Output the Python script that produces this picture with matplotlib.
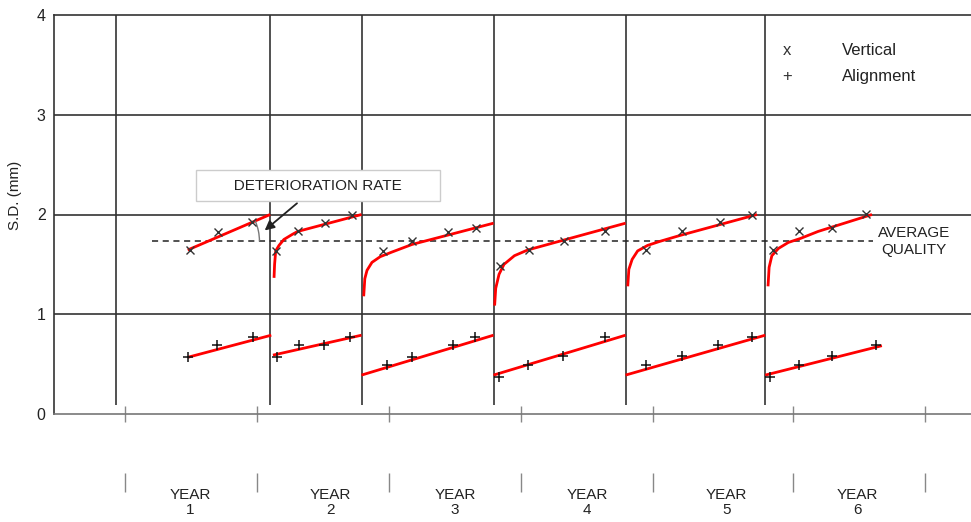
import matplotlib
matplotlib.use("Agg")
import matplotlib.pyplot as plt
from matplotlib.patches import Arc

plt.rcParams['font.family'] = ['Liberation Sans', 'DejaVu Sans']

# time axis in months, S.D. in mm
year_ticks = [0, 12, 24, 36, 48, 60.7, 72.7]
year_label_x = [5.9, 18.7, 30.0, 42.0, 54.7, 66.6]
year_labels = ['YEAR\n1', 'YEAR\n2', 'YEAR\n3', 'YEAR\n4', 'YEAR\n5', 'YEAR\n6']
maintenance_x = [-0.8, 13.2, 21.5, 33.5, 45.5, 58.2]
avg_quality = 1.73
avg_quality_x = [2.45, 68.0]

# vertical (x markers)
vert_x = [[5.9, 8.45, 11.55], [13.7, 15.7, 18.2, 20.6], [23.45, 26.1, 29.4, 31.9],
          [34.1, 36.7, 39.9, 43.6], [47.4, 50.6, 54.1, 57.0], [58.9, 61.3, 64.3, 67.4]]
vert_y = [[1.64, 1.82, 1.92], [1.635, 1.83, 1.91, 2.0], [1.635, 1.73, 1.82, 1.865],
          [1.48, 1.644, 1.73, 1.83], [1.644, 1.83, 1.92, 2.0], [1.644, 1.83, 1.865, 2.01]]

# fitted vertical trend curves
vert_fit_x = [[5.7, 13.2],
              [13.55, 13.6, 13.7, 14.0, 14.45, 15.2, 15.7, 21.5],
              [21.7, 21.8, 22.0, 22.45, 23.2, 24.3, 26.1, 33.5],
              [33.6, 33.7, 34.0, 34.45, 35.4, 36.6, 39.1, 45.5],
              [45.7, 45.8, 46.1, 46.6, 47.5, 48.6, 50.45, 57.45],
              [58.45, 58.55, 58.8, 59.4, 60.3, 61.4, 63.0, 67.9]]
vert_fit_y = [[1.644, 2.0],
              [1.365, 1.50, 1.635, 1.69, 1.75, 1.80, 1.83, 2.0],
              [1.18, 1.356, 1.44, 1.52, 1.577, 1.625, 1.70, 1.913],
              [1.087, 1.26, 1.40, 1.50, 1.587, 1.644, 1.72, 1.913],
              [1.28, 1.45, 1.55, 1.635, 1.69, 1.73, 1.79, 2.0],
              [1.28, 1.47, 1.587, 1.66, 1.72, 1.76, 1.83, 2.0]]

# alignment (+ markers)
align_x = [[5.7, 8.4, 11.6], [13.8, 15.8, 18.1, 20.5], [23.8, 26.1, 29.8, 31.8],
           [34.0, 36.6, 39.8, 43.6], [47.4, 50.6, 53.9, 57.0], [58.6, 61.3, 64.3, 68.3]]
align_y = [[0.57, 0.695, 0.77], [0.57, 0.695, 0.695, 0.77], [0.495, 0.57, 0.695, 0.77],
           [0.37, 0.495, 0.58, 0.77], [0.495, 0.58, 0.695, 0.77], [0.37, 0.495, 0.58, 0.695]]
align_fit_x = [[5.7, 13.3], [13.45, 21.5], [21.5, 33.5], [33.5, 45.5], [45.5, 58.2], [58.2, 68.8]]
align_fit_y = [[0.568, 0.79], [0.59, 0.79], [0.39, 0.79], [0.39, 0.79], [0.39, 0.79], [0.39, 0.685]]

fig = plt.figure(figsize=(9.71, 5.22), dpi=100)
ax = fig.add_axes([54 / 971, 108 / 522, 917 / 971, 399 / 522])
ax.set_xlim(-6.45, 76.9)
ax.set_ylim(0, 4)

# grid
for yv in [1, 2, 3]:
    ax.axhline(yv, color='#333333', lw=1.2, zorder=1)
ax.vlines(maintenance_x, 0.09, 4, color='#333333', lw=1.2, zorder=1)

ax.spines['right'].set_visible(False)
ax.spines['top'].set_color('#333333')
ax.spines['top'].set_linewidth(1.2)
ax.spines['left'].set_color('#333333')
ax.spines['left'].set_linewidth(1.2)
ax.spines['bottom'].set_color('#777777')
ax.spines['bottom'].set_linewidth(1.2)

ax.set_xticks(year_ticks)
ax.set_xticklabels([])
ax.tick_params(axis='x', direction='inout', length=11.5, width=1, color='#888888')
ax.set_yticks([0, 1, 2, 3, 4])
ax.tick_params(axis='y', length=0, pad=6, labelsize=11.5, labelcolor='#222222')

# second row of year ticks and year labels below the axis
ax.vlines(year_ticks, -0.148, -0.195, transform=ax.get_xaxis_transform(),
          color='#888888', lw=1, clip_on=False)
for xv, lab in zip(year_label_x, year_labels):
    ax.text(xv, -0.222, lab, transform=ax.get_xaxis_transform(), ha='center',
            va='center', fontsize=11, linespacing=1.05, color='#222222')

fig.text(15 / 971, 1 - 195 / 522, 'S.D. (mm)', rotation=90, ha='center',
         va='center', fontsize=11, color='#222222')

# average quality
ax.hlines(avg_quality, avg_quality_x[0], avg_quality_x[1], color='#222222', lw=1.1,
          linestyles=(0, (4, 3)), zorder=2)
ax.text(71.7, avg_quality, 'AVERAGE\nQUALITY', ha='center', va='center',
        fontsize=11, linespacing=1.25, color='#222222')

# series
for fx, fy in zip(vert_fit_x, vert_fit_y):
    ax.plot(fx, fy, color='#ff0000', lw=2, zorder=3, solid_capstyle='butt')
for fx, fy in zip(align_fit_x, align_fit_y):
    ax.plot(fx, fy, color='#ff0000', lw=2, zorder=3, solid_capstyle='butt')
for mx, my in zip(vert_x, vert_y):
    ax.plot(mx, my, ls='none', marker='x', ms=6, mew=1, color='#333333', zorder=4)
for mx, my in zip(align_x, align_y):
    ax.plot(mx, my, ls='none', marker='+', ms=7, mew=1.1, color='#111111', zorder=4)

# deterioration rate callout
ax.annotate('       DETERIORATION RATE       ', xy=(12.7, 1.84), xytext=(17.55, 2.29),
            ha='center', va='center', fontsize=11, color='#222222', zorder=6,
            bbox=dict(boxstyle='square,pad=0.55', fc='white', ec='#cccccc', lw=1),
            arrowprops=dict(arrowstyle='-|>', color='#222222', lw=1.3,
                            mutation_scale=14, shrinkB=0))
# angle between the year 1 trend and the average quality line
ax.add_patch(Arc((7.5, avg_quality), 9.45, 1.04, theta1=0, theta2=2.7,
                 color='#777777', lw=1, zorder=3))

# legend
ax.text(0.799, 0.912, 'x', transform=ax.transAxes, ha='center', va='center',
        fontsize=12, color='#333333')
ax.text(0.799, 0.847, '+', transform=ax.transAxes, ha='center', va='center',
        fontsize=12, color='#333333')
ax.text(0.859, 0.912, 'Vertical', transform=ax.transAxes, ha='left', va='center',
        fontsize=12, color='#222222')
ax.text(0.859, 0.847, 'Alignment', transform=ax.transAxes, ha='left', va='center',
        fontsize=12, color='#222222')

fig.savefig('out.png', dpi=100)
